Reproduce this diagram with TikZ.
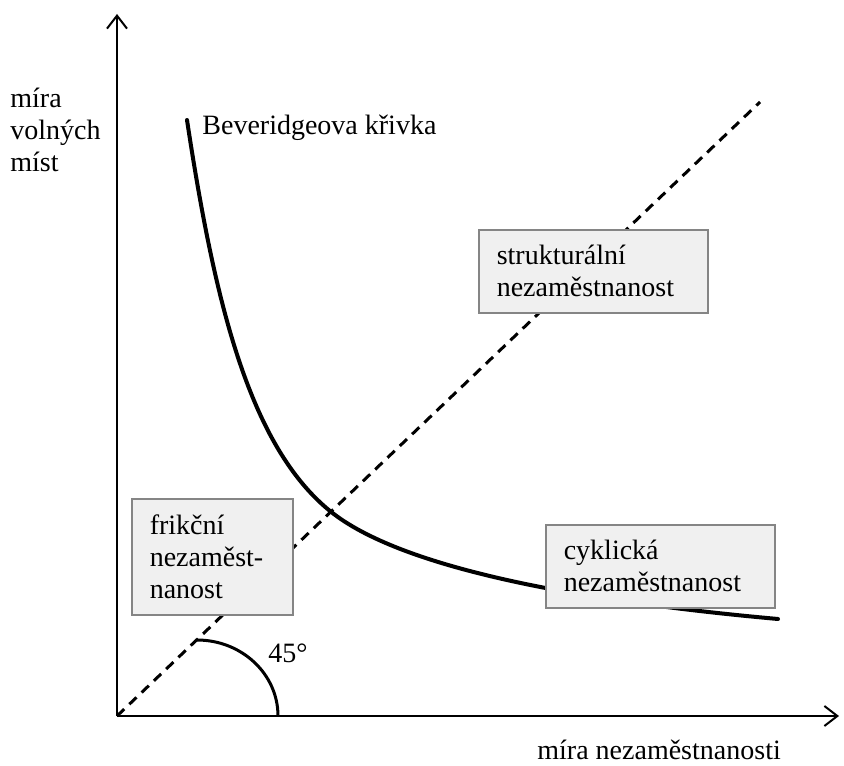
\documentclass[tikz,border=0pt]{standalone}
\usepackage{fontspec}
\setmainfont{Liberation Serif}
\usetikzlibrary{arrows.meta}
\definecolor{boxfill}{HTML}{F0F0F0}
\definecolor{boxline}{HTML}{858585}
\begin{document}
\begin{tikzpicture}[x=0.5pt,y=0.5pt,
    every node/.style={font=\fontsize{14}{16}\selectfont},
    axis/.style={line width=1pt,-{Straight Barb[length=6.5pt,width=10pt,line width=1pt]}},
    infobox/.style={draw=boxline,fill=boxfill,line width=0.8pt,anchor=north west,
      align=left,inner xsep=9pt,inner ysep=0pt}]
  \useasboundingbox (0,0) rectangle (844,765);
  \coordinate (O) at (117,49);
  \coordinate (ytop) at (117,751);
  \coordinate (xend) at (839,49);
  \coordinate (dend) at (760,663);
  \coordinate (arcstart) at (197,125);
  \coordinate (cstart) at (187,645);
  \coordinate (cmid) at (330,254);
  \coordinate (cend) at (778,146);
  % diagonal and curve
  \draw [line width=1.5pt,dash pattern=on 5pt off 3.5pt] (O) -- (dend);
  \draw [line width=2pt,line cap=round] (cstart) .. controls (215,460) and (250,319) .. (cmid)
    .. controls (400,197) and (578,164) .. (cend);
  \draw [line width=1.5pt] (arcstart) arc [start angle=90,end angle=0,x radius=81,y radius=76];
  % axes
  \draw [axis] (O) -- (ytop);
  \draw [axis] (O) -- (xend);
  % boxes
  \node [infobox,text width=96.5pt,minimum height=41.5pt] (struk) at (478,536)
    {struktur\'aln\'i\\nezam\v{e}stnanost};
  \node [infobox,text width=62.5pt,minimum height=58pt] (frik) at (131,267)
    {frik\v{c}n\'i\\nezam\v{e}st-\\nanost};
  \node [infobox,text width=96.5pt,minimum height=41.5pt] (cykl) at (545,241)
    {cyklick\'a\\nezam\v{e}stnanost};
  % labels
  \node [anchor=base west,inner sep=0pt] (bev) at (202,630) {Beveridgeova k\v{r}ivka};
  \node [anchor=base west,inner sep=0pt] (deg) at (268,103) {45°};
  \node [anchor=north west,align=left,inner sep=0pt] (ylab) at (10,677)
    {m\'ira\\voln\'ych\\m\'ist};
  \node [anchor=base west,inner sep=0pt] (xlab) at (537,6) {m\'ira nezam\v{e}stnanosti};
\end{tikzpicture}
\end{document}
